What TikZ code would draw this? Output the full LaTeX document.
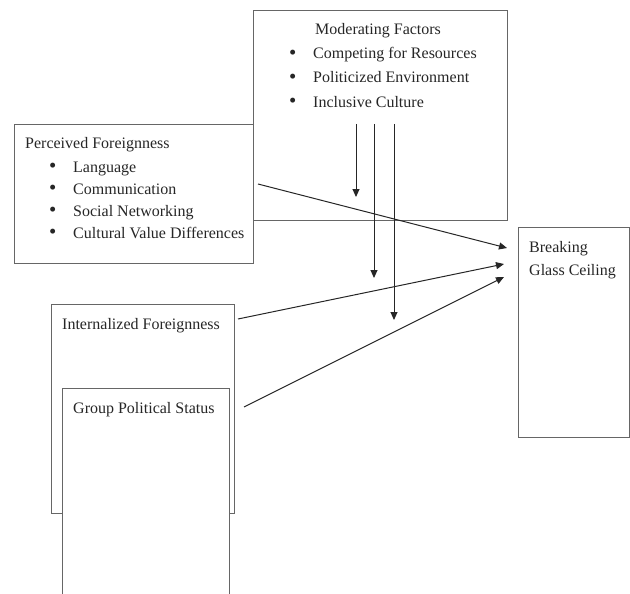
\documentclass[tikz,border=0pt]{standalone}
\usepackage{fontspec}
\setmainfont{Liberation Serif}
\usetikzlibrary{arrows.meta}

\tikzset{
    box/.style={draw=black!60, line width=1.2pt, anchor=north west, inner sep=0pt},
    txt/.style={anchor=base west, inner sep=0pt, text=black!85, font=\fontsize{16}{19}\selectfont},
    arr/.style={draw=black!85, line width=1pt, -{Triangle[length=8pt,width=7pt]}}
}
\newcommand{\itm}[1]{\makebox[24pt][l]{\raisebox{-0.6pt}{\scalebox{1.3}{\textbullet}}}#1}

\begin{document}
\begin{tikzpicture}[x=1pt,y=-1pt]
        \clip (0,0) rectangle (630,594);
    
        % boxes
        \node[box, minimum width=254pt, minimum height=210pt] (mod) at (253,10) {};
        \node[box, minimum width=239pt, minimum height=139pt] (perc) at (14,124) {};
        \node[box, minimum width=183pt, minimum height=209pt] (intl) at (51,304) {};
        \node[box, fill=white, minimum width=167pt, minimum height=230pt] (grp) at (62,388) {};
        \node[box, minimum width=111pt, minimum height=210pt] (brk) at (518,227) {};
    
        % texts
        \node[txt] (modt) at (315,35) {Moderating Factors};
        \node[txt] (mod1) at (289,59) {\itm{Competing for Resources}};
        \node[txt] (mod2) at (289,83) {\itm{Politicized Environment}};
        \node[txt] (mod3) at (289,107) {\itm{Inclusive Culture}};
        \node[txt] (perct) at (25,149) {Perceived Foreignness};
        \node[txt] (perc1) at (49,172) {\itm{Language}};
        \node[txt] (perc2) at (49,194) {\itm{Communication}};
        \node[txt] (perc3) at (49,216) {\itm{Social Networking}};
        \node[txt] (perc4) at (49,238) {\itm{Cultural Value Differences}};
        \node[txt] (intlt) at (62,329) {Internalized Foreignness};
        \node[txt] (grpt) at (73,413) {Group Political Status};
        \node[txt] (brk1) at (529,252) {Breaking};
        \node[txt] (brk2) at (529,275) {Glass Ceiling};
    
        % arrow ends
        \coordinate (p1) at (258,184);
        \coordinate (p2) at (238,319);
        \coordinate (p3) at (244,407);
        \coordinate (q1) at (507,248);
        \coordinate (q2) at (504,264);
        \coordinate (q3) at (504,277);
        \coordinate (m1) at (356,124);
        \coordinate (m2) at (374,124);
        \coordinate (m3) at (394,124);
        \coordinate (n1) at (356,197);
        \coordinate (n2) at (374,278);
        \coordinate (n3) at (394,320);
    
        \draw[arr] (p1) -- (q1);
        \draw[arr] (p2) -- (q2);
        \draw[arr] (p3) -- (q3);
        \draw[arr] (m1) -- (n1);
        \draw[arr] (m2) -- (n2);
        \draw[arr] (m3) -- (n3);
    
    \end{tikzpicture}
\end{document}
